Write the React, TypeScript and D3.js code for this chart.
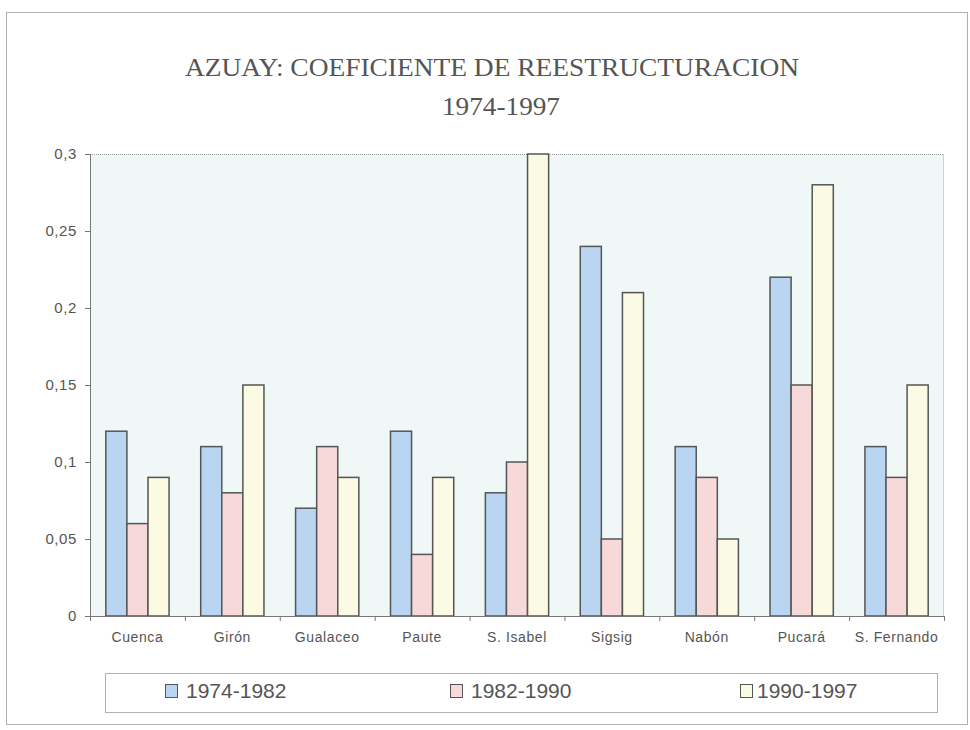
import React from "react";
import * as d3 from "d3";

const categories = ["Cuenca", "Girón", "Gualaceo", "Paute", "S. Isabel", "Sigsig", "Nabón", "Pucará", "S. Fernando"];
const seriesNames = ["1974-1982", "1982-1990", "1990-1997"];
const s1974_1982 = [0.12, 0.11, 0.07, 0.12, 0.08, 0.24, 0.11, 0.22, 0.11];
const s1982_1990 = [0.06, 0.08, 0.11, 0.04, 0.10, 0.05, 0.09, 0.15, 0.09];
const s1990_1997 = [0.09, 0.15, 0.09, 0.09, 0.30, 0.21, 0.05, 0.28, 0.15];
const yTicks = [0, 0.05, 0.1, 0.15, 0.2, 0.25, 0.3];
const yTickLabels = ["0", "0,05", "0,1", "0,15", "0,2", "0,25", "0,3"];

const colors = ["#b9d5f1", "#f6d9d8", "#fbfbe4"];

export default function App() {
  const W = 970, H = 730;
  const left = 90, right = 944, top = 154, bottom = 616;
  const x = d3.scaleBand<string>().domain(categories).range([left, right]).paddingInner(0).paddingOuter(0);
  const inner = d3.scaleBand<number>().domain([0, 1, 2]).range([0, x.bandwidth()]).paddingOuter(0.75).paddingInner(0);
  const y = d3.scaleLinear().domain([0, 0.3]).range([bottom, top]);
  const series = [s1974_1982, s1982_1990, s1990_1997];

  const legendX = [165, 450, 740];
  const legendTextX = [186, 471, 757];
  const sans = "'Liberation Sans', Arial, sans-serif";
  const serif = "'Liberation Serif', 'DejaVu Serif', serif";

  return (
    <svg width={W} height={H} style={{ position: "absolute", left: 0, top: 0 }}>
      <rect x={0} y={0} width={W} height={H} fill="#ffffff" />
      <rect x={6.5} y={12.5} width={961} height={712} fill="none" stroke="#b0b0b0" strokeWidth={1} />
      <text x={492} y={76} textAnchor="middle" fontFamily={serif} fontSize={26} fill="#555" textLength={614} lengthAdjust="spacingAndGlyphs">
        AZUAY: COEFICIENTE DE REESTRUCTURACION
      </text>
      <text x={501} y={115} textAnchor="middle" fontFamily={serif} fontSize={26} fill="#555" textLength={118} lengthAdjust="spacingAndGlyphs">
        1974-1997
      </text>
      <rect x={left} y={top} width={right - left} height={bottom - top} fill="#eff8f7" />
      <line x1={left} x2={right} y1={top + 0.5} y2={top + 0.5} stroke="#9a9a9a" strokeDasharray="1,1" />
      <line x1={right - 0.5} x2={right - 0.5} y1={top} y2={bottom} stroke="#d0d0d0" />
      {categories.map((c, i) => (
        <g key={c}>
          {series.map((s, k) => (
            <rect key={k} x={(x(c) as number) + (inner(k) as number)} y={y(s[i])} width={inner.bandwidth()} height={bottom - y(s[i])} fill={colors[k]} stroke="#555" strokeWidth={1.5} />
          ))}
        </g>
      ))}
      <line x1={left + 0.5} x2={left + 0.5} y1={top} y2={bottom} stroke="#777" />
      <line x1={left} x2={right} y1={bottom + 0.5} y2={bottom + 0.5} stroke="#777" />
      {yTicks.map((t, i) => (
        <g key={t}>
          <line x1={left - 5} x2={left} y1={y(t) + 0.5} y2={y(t) + 0.5} stroke="#777" />
          <text x={77} y={y(t) + 5} textAnchor="end" fontFamily={sans} fontSize={15} letterSpacing={0.6} fill="#555">{yTickLabels[i]}</text>
        </g>
      ))}
      {categories.concat(["end"]).map((c, i) => {
        const xx = left + i * x.bandwidth();
        return <line key={"t" + i} x1={xx + 0.5} x2={xx + 0.5} y1={bottom} y2={bottom + 5} stroke="#777" />;
      })}
      {categories.map((c) => (
        <text key={"l" + c} x={(x(c) as number) + x.bandwidth() / 2} y={642} textAnchor="middle" fontFamily={sans} fontSize={14} letterSpacing={0.6} fill="#555">{c}</text>
      ))}
      <rect x={105.5} y={673.5} width={832} height={39} fill="#fff" stroke="#b0b0b0" />
      {seriesNames.map((n, k) => (
        <g key={n}>
          <rect x={legendX[k] + 0.5} y={684.5} width={12} height={13} fill={colors[k]} stroke="#555" />
          <text x={legendTextX[k]} y={698} fontFamily={sans} fontSize={21} fill="#555">{n}</text>
        </g>
      ))}
    </svg>
  );
}
